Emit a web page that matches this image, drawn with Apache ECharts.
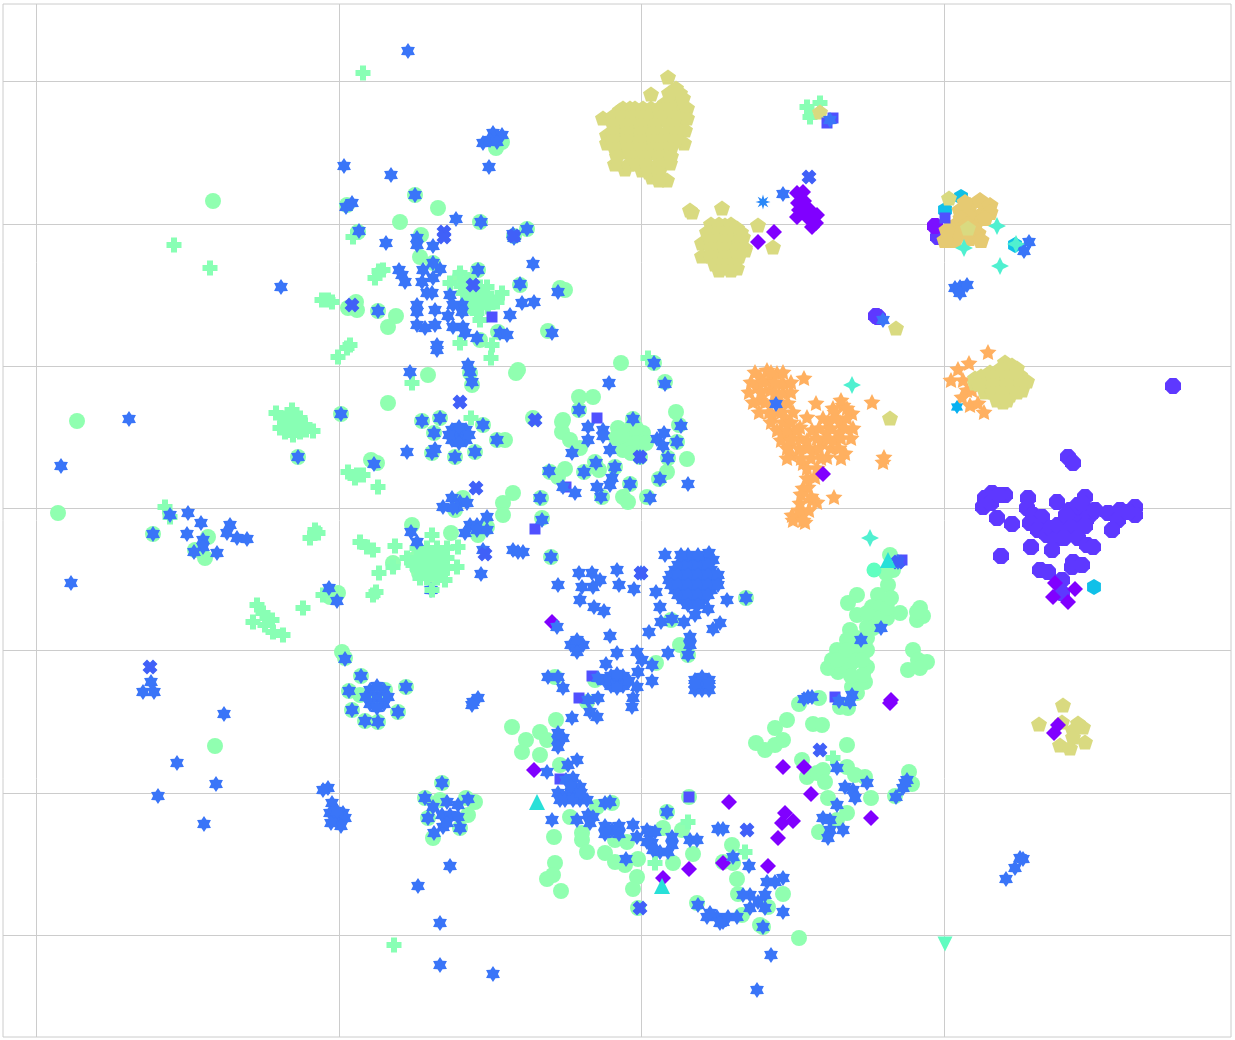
<!DOCTYPE html>
<html>
<head>
<meta charset="utf-8">
<script src="https://cdn.jsdelivr.net/npm/echarts@6/dist/echarts.min.js"></script>
<style>
html,body{margin:0;padding:0;background:#fff;}
#main{width:1235px;height:1040px;}
</style>
</head>
<body>
<div id="main"></div>
<script>
// values, in an arbitrary embedding unit
var xTicks=[-605,-302,0,303];
var yTicks=[427,284,142,0,-142,-285,-427];

var greenCircles=[[-428,307],[-564,87],[-583,-5],[-426,-238],[-253,105],[-241,286],[-203,300],[-213,133],[-123,138],[-125,135],[-20,145],[158,-430],[-139,366],[-145,360],[-226,313],[-294,303],[-161,286],[-283,276],[-220,273],[-114,279],[-127,272],[-221,251],[-208,245],[-163,238],[-181,231],[-81,220],[-76,218],[-121,223],[-293,200],[-285,206],[-284,198],[-263,197],[-245,192],[-253,181],[-93,177],[-143,176],[-161,168],[-171,135],[-169,123],[-108,90],[-79,86],[-79,76],[-136,68],[-184,75],[-219,87],[-201,90],[-158,83],[-207,75],[-144,68],[-209,55],[-186,51],[-166,56],[-343,51],[-300,94],[-270,48],[-264,45],[-91,36],[-178,10],[-186,-2],[-128,15],[-138,5],[-138,-7],[-100,10],[-99,-10],[-229,-17],[-190,-25],[-163,-27],[-248,-55],[-90,-49],[-154,-19],[-303,-85],[-311,-89],[-299,-144],[-296,-150],[-488,-26],[-433,-29],[-436,-50],[-446,-42],
[-170,215],[-160,205],[-178,225],[-172,228],[-165,220],[-348,80],[-345,88],[-352,78],[-343,78],[-355,85],[-214,-55],[-205,-65],[-222,-65],[-200,-55],[-225,-50],[-210,-70],[-215,-45],
[13,145],[24,126],[-62,111],[-48,111],[-62,98],[-78,88],[-71,68],[-61,60],[35,96],[38,83],[-8,89],[36,66],[-23,80],[2,75],[-11,70],[-18,58],[-1,51],[27,50],[46,49],[-46,46],[-26,41],[-42,38],[-57,36],[-76,39],[-83,31],[26,36],[18,29],[-11,24],[-18,11],[-13,6],[6,11],[-39,11],[-10,80],[-5,65],[-15,65],[-20,72],[-5,80],[5,65],[-10,55],[-25,70],
[30,-112],[105,-90],[39,-137],[47,-147],[15,-155],[-86,-169],[-46,-172],[-54,-194],[-85,-212],[-101,-224],[-94,-232],
[-280,-168],[-292,-183],[-281,-187],[-264,-189],[-256,-182],[-235,-179],[-289,-202],[-243,-204],[-276,-213],[-263,-214],[-199,-275],[-216,-290],[-201,-292],[-175,-290],[-166,-294],[-173,-307],[-213,-310],[-181,-320],[-208,-330],
[-129,-219],[-115,-232],[-119,-244],[-101,-247],[-81,-257],[-71,-309],[-59,-325],[-59,-332],[-54,-344],[-87,-329],[-86,-355],[-88,-367],[-94,-371],[-80,-383],[-36,-345],[-26,-354],[-16,-357],[-3,-351],[-4,-369],[-8,-381],[-3,-400],[32,-355],[52,-346],[48,-289],[26,-304],[22,-320],[41,-322],[-29,-295],[-44,-299],[-26,-332],[-14,-334],[82,-354],[92,-355],[91,-337],[96,-371],[97,-386],[56,-395],[101,-407],[122,-419],[142,-386],[127,-399],
[158,-196],[178,-190],[199,-199],[207,-200],[216,-185],[224,-174],[146,-212],[134,-220],[115,-235],[124,-242],[134,-237],[142,-232],[172,-216],[181,-217],[206,-237],[161,-252],[166,-269],[176,-265],[182,-262],[184,-274],[187,-290],[206,-259],[214,-267],[224,-269],[230,-290],[206,-305],[196,-312],[178,-324],[268,-264],[271,-276],[254,-288],[119,-417],
[249,-47],[252,-62],[247,-77],[237,-87],[216,-87],[207,-95],[231,-99],[216,-107],[246,-110],[239,-99],[279,-100],[259,-105],[276,-112],[209,-122],[226,-119],[232,-109],[206,-132],[196,-142],[226,-142],[216,-142],[191,-152],[187,-160],[197,-164],[209,-157],[226,-159],[222,-167],[211,-179],[272,-142],[277,-152],[286,-154],[267,-162],[279,-160],[202,-149],
[216,-130],[226,-130],[206,-142],[216,-152],[200,-158],[210,-168],[221,-152],[232,-120],[239,-110],[226,-105],[196,-152],[246,-100],[250,-90],[245,-65],[282,-108],[276,-104]];

var greenPluses=[[-467,263],[-431,240],[-278,435],[-247,-437],[-262,237],[-258,238],[-266,230],[-288,271],[-313,208],[-319,208],[-309,206],[-291,163],[-294,160],[-303,151],[-181,165],[-149,163],[-150,150],[-139,215],[-161,201],[-161,188],[-154,221],[-181,235],[-174,228],[-161,221],[-191,225],[-178,215],[-164,211],[-158,211],[-153,201],[-144,206],[-171,201],[-164,195],[-229,125],[-170,90],
[-175,215],[-170,220],[-165,205],[-170,210],[-180,222],[-160,215],[-150,210],
[-349,85],[-356,83],[-343,83],[-349,93],[-341,90],[-356,90],[-349,78],[-341,76],[-356,76],[-349,98],[-336,83],[-361,80],[-348,73],[-328,77],[-365,95],[-335,78],
[-293,36],[-284,33],[-278,33],[-286,30],[-263,21],[-326,-22],[-323,-25],[-331,-30],[-281,-34],[-274,-39],[-268,-42],[-246,-38],[-209,-27],
[-214,-50],[-224,-50],[-204,-50],[-214,-40],[-224,-40],[-204,-40],[-214,-60],[-224,-60],[-204,-60],[-214,-70],[-204,-70],[-221,-70],[-194,-50],[-194,-60],[-194,-40],[-234,-50],[-228,-57],[-196,-72],[-183,-39],[-184,-59],[-262,-65],[-248,-59],[-265,-84],[-268,-87],[-338,-100],[-318,-87],
[-209,-45],[-219,-45],[-199,-45],[-209,-55],[-219,-55],[-199,-55],[-209,-65],[-219,-65],[-199,-65],
[-384,-97],[-388,-114],[-374,-110],[-369,-112],[-378,-105],[-368,-124],[-358,-127],[-376,-117],[-476,1],[-471,-9],[7,150],[166,401],[179,405],[169,391],[47,-314],[14,-355],[104,-344],[192,-250]];
var greenPlusesOnTop=[[-209,-82]];

var blueStars=[[-360,221],[-233,457],[-297,342],[-250,333],[-152,341],[-148,375],[-139,373],[-158,365],[-151,368],[-144,366],[-226,313],[-295,301],[-289,305],[-160,286],[-185,289],[-282,277],[-255,265],[-114,279],[-128,274],[-127,270],[-224,270],[-224,263],[-208,262],[-108,244],[-163,238],[-121,224],[-83,216],[-242,238],[-239,233],[-236,226],[-218,238],[-208,245],[-201,239],[-208,230],[-219,226],[-214,215],[-209,215],[-191,213],[-224,203],[-224,196],[-206,198],[-179,203],[-179,196],[-188,203],[-263,197],[-193,192],[-119,205],[-107,206],[-131,193],[-224,183],[-216,180],[-206,183],[-188,181],[-178,181],[-176,175],[-164,170],[-141,175],[-134,173],[-89,175],[-204,163],[-204,158],[-231,136],[-171,136],[-169,126],[-173,143],
[-219,87],[-201,90],[-158,83],[-207,75],[-182,73],[-189,78],[-175,78],[-189,68],[-175,68],[-182,81],[-182,65],[-192,73],[-172,73],[-144,68],[-209,55],[-206,59],[-186,51],[-166,56],[-234,56],[-300,94],[-343,51],[-267,44],[-92,37],[-189,10],[-181,6],[-184,1],[-174,5],[-198,1],[-188,0],[-101,10],[-99,-12],[-230,-24],[-224,-34],[-171,-17],[-164,-17],[-154,-9],[-176,-25],[-164,-22],[-154,-22],[-158,-42],[-128,-42],[-123,-44],[-118,-44],[-160,-66],[-90,-49],[-83,-77],[-312,-80],[-304,-93],[-210,-82],
[-512,89],[-580,42],[-570,-75],[-471,-7],[-453,-5],[-440,-15],[-488,-26],[-454,-26],[-438,-32],[-438,-39],[-447,-44],[-424,-45],[-411,-17],[-414,-25],[-404,-30],[-394,-31],[-490,-174],[-498,-184],[-487,-184],[-417,-206],[-464,-255],[-425,-276],[-483,-288],[-437,-316],
[-296,-151],[-280,-168],[-292,-183],[-235,-179],[-289,-202],[-243,-204],[-276,-213],[-263,-214],[-264,-189],[-271,-182],[-257,-182],[-271,-196],[-257,-196],[-264,-178],[-264,-200],[-275,-189],[-253,-189],[-168,-194],[-163,-190],[-169,-197],[-199,-275],[-313,-280],[-318,-282],[-309,-295],[-304,-307],[-311,-305],[-298,-305],[-304,-314],[-296,-310],[-304,-303],[-300,-318],[-310,-315],[-216,-290],[-208,-299],[-194,-294],[-173,-291],[-183,-297],[-213,-310],[-199,-307],[-191,-307],[-183,-309],[-198,-319],[-181,-320],[-207,-325],[-194,-315],[-191,-358],[-223,-378],[-201,-415],[-201,-457],[-148,-466],
[-32,125],[13,145],[24,124],[-62,98],[-53,81],[-38,78],[-38,72],[-53,68],[-69,55],[-31,58],[-45,45],[-1,51],[-26,41],[-57,36],[16,69],[23,75],[22,62],[40,82],[36,66],[27,50],[19,29],[47,24],[-11,24],[-29,30],[-31,23],[-44,21],[-40,11],[9,10],[-78,21],[-66,15],[-8,89],
[24,-47],[-62,-65],[-49,-65],[-41,-72],[-59,-79],[-48,-79],[-61,-92],[-24,-62],[-22,-77],[-7,-81],[0,-65],[15,-84],[19,-99],[31,-111],[-47,-99],[-37,-103],[8,-124],[20,-114],[43,-114],[54,-107],[67,-101],[86,-92],[105,-90],[-84,-119],[-31,-128],[-64,-139],[-70,-137],[-58,-137],[-64,-132],[-64,-144],[49,-129],[49,-137],[47,-147],[27,-145],[72,-121],[79,-115],[-24,-145],[-4,-144],[1,-152],[11,-157],[-3,-164],[11,-173],[-35,-156],[-24,-173],[-30,-168],[-18,-168],[-30,-178],[-18,-178],[-24,-180],[-24,-166],[-12,-173],[-36,-173],[-4,-179],[-8,-190],[-9,-199],[54,-172],[68,-172],[61,-182],[61,-169],[54,-182],[68,-182],[61,-176],[54,-176],[68,-176],[-93,-169],[-83,-169],[-78,-180],[-43,-170],[-43,-190],[-53,-192],[-51,-204],[-44,-209],[-69,-210],[-83,-232],[-78,-230],[-83,-225],[-83,-239],
[52,-72],[42,-72],[62,-72],[32,-72],[72,-72],[52,-62],[42,-62],[62,-62],[34,-62],[70,-62],[52,-82],[42,-82],[62,-82],[34,-82],[70,-82],[52,-52],[42,-52],[62,-52],[72,-52],[52,-92],[42,-92],[62,-92],[76,-72],[28,-72],[68,-45],
[37,-57],[47,-57],[57,-57],[67,-57],[30,-67],[37,-67],[47,-67],[57,-67],[67,-67],[77,-67],[30,-77],[37,-77],[47,-77],[57,-77],[67,-77],[77,-77],[37,-87],[47,-87],[57,-87],[67,-87],[47,-47],[57,-47],[40,-47],[47,-97],[57,-97],
[-94,-264],[-89,-312],[-73,-257],[-64,-252],[-68,-270],[-61,-279],[-83,-285],[-74,-287],[-68,-285],[-81,-292],[-61,-292],[-54,-292],[-75,-272],[-70,-278],[-76,-292],[-68,-292],[-60,-285],[-36,-295],[-31,-294],[-53,-307],[-48,-309],[-64,-312],[-51,-315],[-29,-322],[-36,-318],[-22,-318],[-36,-326],[-22,-326],[-8,-317],[-4,-329],[9,-325],[6,-322],[14,-324],[11,-335],[6,-334],[19,-344],[12,-342],[31,-329],[31,-337],[27,-344],[26,-304],[-15,-351],[49,-332],[56,-332],[77,-321],[82,-321],[92,-349],[108,-358],[57,-397],[66,-409],[76,-409],[82,-414],[87,-409],[96,-409],[69,-405],[79,-415],[122,-419],[117,-394],[109,-387],[124,-387],[124,-400],[109,-400],[102,-387],[126,-374],[134,-374],[142,-370],[142,-404],[130,-447],[116,-482],
[135,104],[240,-120],[220,-132],[257,-54],[167,-189],[171,-189],[163,-191],[198,-193],[211,-187],[209,-194],[196,-260],[204,-279],[212,-282],[214,-290],[226,-275],[196,-297],[182,-310],[189,-312],[189,-322],[202,-322],[187,-330],[264,-275],[262,-280],[255,-289],[266,-272],[382,-351],[374,-360],[365,-371],[379,-350],[388,266],[383,257],[319,221],[326,223],[314,220],[319,215],[142,314],[189,388],[242,188]];

var blueCrosses=[[-491,-159],[-181,106],[168,331],[-168,223],[-106,88],[-197,276],[-197,271],[-165,20],[179,-242],[106,-322],[-1,-400],[-156,-46],[-289,203],[-127,272],[-1,51],[0,-65],[257,-54]];
var squares=[[-149,191],[-106,-21],[-44,90],[-75,21],[-49,-168],[-62,-190],[48,-289],[-81,-271],[186,385],[192,390],[261,-52],[194,-189],[304,290]];
var diamonds=[[156,315],[157,305],[169,298],[156,291],[176,293],[171,281],[162,316],[166,291],[163,307],[170,290],[162,298],[158,298],[175,285],[117,266],[133,276],[182,34],[414,-75],[412,-89],[427,-94],[434,-81],[-89,-114],[-107,-262],[88,-294],[142,-259],[163,-259],[170,-286],[144,-305],[141,-315],[152,-313],[137,-330],[230,-310],[127,-358],[250,-192],[249,-195],[417,-217],[413,-225],[48,-361],[82,-355],[22,-370]];
var pentagons=[[27,431],[10,414],[-38,390],[-34,373],[-34,365],[-26,344],[-16,339],[43,365],[39,415],[37,405],[29,405],[42,398],[29,393],[41,385],[34,381],[21,388],[-21,398],[-11,400],[4,395],[12,391],[-21,385],[-8,385],[6,381],[19,375],[27,365],[-21,368],[-8,370],[6,368],[-16,356],[-3,356],[11,355],[24,353],[29,345],[1,338],[11,331],[26,328],[17,341],
[31,413],[35,420],[42,410],[46,400],[28,415],[24,405],[46,390],[44,378],
[-18,400],[-6,400],[2,400],[10,400],[18,400],[26,400],[-28,392],[-18,392],[-8,392],[2,392],[20,392],[34,392],[-28,384],[-14,384],[0,384],[14,384],[28,384],[-28,376],[-14,376],[0,376],[12,376],[26,376],[36,376],[-28,368],[-14,368],[-1,368],[13,368],[20,368],[34,368],[-26,360],[-12,360],[0,360],[12,360],[20,360],[30,360],[-24,352],[-8,352],[4,352],[18,352],[30,352],[-12,344],[-4,344],[6,344],[18,344],[8,336],[18,336],[18,328],
[49,298],[51,296],[81,300],[117,283],[132,261],[61,265],[61,252],[71,278],[84,283],[96,280],[77,266],[91,268],[102,271],[77,255],[91,255],[104,258],[82,240],[96,240],[89,248],[81,248],
[70,284],[78,284],[90,284],[66,276],[78,276],[86,276],[100,276],[70,268],[84,268],[98,268],[70,260],[78,260],[84,260],[96,260],[104,260],[70,252],[84,252],[98,252],[74,244],[84,244],[94,244],[78,238],[90,238],
[255,180],[179,396],[249,90],
[359,133],[369,138],[364,146],[349,136],[379,133],[386,127],[334,130],[344,128],[359,123],[371,123],[381,118],[344,116],[356,113],[369,113],[362,106],[349,123],[374,130],[334,125],[371,143],
[360,140],[376,140],[340,132],[352,132],[366,132],[338,124],[352,124],[366,124],[380,124],[352,116],[362,116],[376,116],[356,108],[366,108],
[308,310],[327,280],
[422,-197],[398,-216],[444,-234],[442,-219],[437,-215],[432,-222],[432,-229],[419,-237],[429,-240],[421,-214]];
var sandPentagons=[[309,273],[314,283],[319,298],[329,303],[344,303],[339,293],[334,286],[324,276],[314,268],[337,275],[309,280],[327,293],[324,306],[339,308],[349,303],[349,296],[344,290],[320,290],[326,284],[333,280],[318,275],[328,270],[340,268],[304,268],[306,278]];
var orangeStars=[[129,128],[119,131],[136,135],[142,125],[116,121],[129,118],[142,115],[119,108],[132,106],[147,105],[131,93],[126,138],[152,96],[144,91],[163,130],[175,105],[231,106],[243,51],[242,46],[193,11],[202,103],[194,96],[211,95],[187,86],[199,86],[212,80],[186,76],[199,76],[182,65],[194,68],[204,55],[174,58],[186,51],[162,45],[166,91],[159,81],[149,75],[141,75],[159,70],[147,63],[151,53],[171,78],[174,31],[167,21],[162,20],[171,8],[159,5],[157,-9],[151,-7],[164,-14],[162,-5],[176,6],
[114,136],[130,136],[142,136],[110,126],[122,126],[134,126],[150,126],[108,116],[120,116],[134,116],[150,116],[112,106],[124,106],[140,106],[118,96],[128,96],[140,96],[130,86],[142,86],[150,86],[136,78],[146,78],[156,78],[140,68],[150,68],[166,68],
[200,108],[192,100],[206,100],[182,90],[194,90],[206,90],[178,80],[190,80],[204,80],[176,70],[186,70],[200,70],[210,70],[166,60],[178,60],[190,60],[198,60],[170,50],[180,50],[200,50],[166,40],[176,40],[146,60],[158,60],[146,50],[160,50],[158,-2],[168,-2],[152,-12],[162,-12],[170,12],[160,14],[166,30],
[347,156],[328,145],[317,139],[310,128],[322,128],[326,118],[321,111],[331,118],[329,103],[337,105],[343,96]];
var violetDots=[[427,51],[432,45],[344,10],[342,1],[351,15],[364,13],[350,5],[358,13],[356,-10],[371,-16],[387,10],[386,0],[392,-7],[401,-9],[389,-15],[397,-22],[406,-27],[410,-20],[416,-30],[416,6],[444,11],[417,-17],[437,-7],[429,-2],[445,-2],[429,-12],[445,-12],[437,3],[437,-17],[425,-7],[449,-7],[437,-22],[430,-20],[444,-18],[441,5],[454,-2],[467,-5],[479,-2],[477,-12],[494,1],[494,-7],[487,-4],[471,-22],[390,-39],[411,-42],[423,-30],[437,-30],[446,-37],[452,-39],[360,-48],[432,-54],[431,-59],[441,-57],[399,-62],[407,-64],[421,-72],[421,-85],[532,122],[235,192],[237,191],[297,271]];
var purpleDots=[[294,282]];
var cyanHexagons=[[453,-79],[374,263],[320,311],[304,298]];
var mintSparkles=[[356,282],[323,260],[359,242],[375,264],[211,123],[229,-30]];
var cyanTriangles=[[-104,-294],[21,-378],[247,-52]];
var mintDown=[[304,-436]];
var mintCircles=[[233,-62]];
var skyStar8=[[122,306]];
var cyanStar6=[[316,101]];

// symbol outlines
function ring(n,inner,rot){
    var pts=[],count=inner?n*2:n;
    for(var i=0;i<count;i++){
        var r=(inner&&i%2==1)?inner:1;
        var a=rot+i*2*Math.PI/count;
        pts.push((100+100*r*Math.cos(a)).toFixed(1)+' '+(100+100*r*Math.sin(a)).toFixed(1));
    }
    return 'path://M'+pts.join('L')+'Z';
}
var up=-Math.PI/2;
var star6=ring(6,0.62,up),star5=ring(5,0.5,up),star8=ring(8,0.45,up),sparkle=ring(4,0.46,up);
var penta=ring(5,null,up),hexa=ring(6,null,up),octa=ring(8,null,Math.PI/8);
var plus='path://M3 0H7V3H10V7H7V10H3V7H0V3H3Z';
var cross='path://M3 0L5 2L7 0L10 3L8 5L10 7L7 10L5 8L3 10L0 7L2 5L0 3Z';

function sc(name,data,symbol,size,color){
    return {
        name:name,
        type:'scatter',
        data:data,
        symbol:symbol,
        symbolSize:size,
        symbolKeepAspect:true,
        itemStyle:{color:color,opacity:1},
        silent:true,
        animation:false
    };
}
var option={
    animation:false,
    grid:{show:true,left:3,right:4,top:4,bottom:3,borderColor:'#ccc',borderWidth:1},
    xAxis:{
        type:'value',min:-638,max:590,
        axisLine:{show:false},axisTick:{show:false,customValues:xTicks},axisLabel:{show:false},
        splitLine:{show:true,lineStyle:{color:'#ccc',width:1}}
    },
    yAxis:{
        type:'value',min:-529,max:504,
        axisLine:{show:false},axisTick:{show:false,customValues:yTicks},axisLabel:{show:false},
        splitLine:{show:true,lineStyle:{color:'#ccc',width:1}}
    },
    series:[
        sc('circle',greenCircles,'circle',16,'#90ffb0'),
        sc('plus',greenPluses,plus,15,'#88ffb4'),
        sc('orange',orangeStars,star5,17,'#ffb060'),
        sc('cyanhex',cyanHexagons,hexa,16,'#10c0e8'),
        sc('violet',violetDots,octa,16,'#5e38ff'),
        sc('purple',purpleDots,octa,16,'#7a10ff'),
        sc('sand',sandPentagons,penta,17,'#e6ca72'),
        sc('pentagon',pentagons,penta,16,'#d9da80'),
        sc('square',squares,'rect',11,'#5050ff'),
        sc('diamond',diamonds,'diamond',16,'#8000ff'),
        sc('star',blueStars,star6,16,'#3a75f8'),
        sc('cross',blueCrosses,cross,15,'#4060f8'),
        sc('plustop',greenPlusesOnTop,plus,15,'#88ffb4'),
        sc('star8',skyStar8,star8,15,'#2a88f8'),
        sc('cyanstar',cyanStar6,star6,14,'#08b0f0'),
        sc('mintcircle',mintCircles,'circle',15,'#60ffc0'),
        sc('sparkle',mintSparkles,sparkle,18,'#50f0d0'),
        sc('triangle',cyanTriangles,'triangle',16,'#28e0d8'),
        sc('down',mintDown,'path://M0 0H10L5 10Z',15,'#60fcc0')
    ]
};
var chart=echarts.init(document.getElementById('main'));
chart.setOption(option);
</script>
</body>
</html>
